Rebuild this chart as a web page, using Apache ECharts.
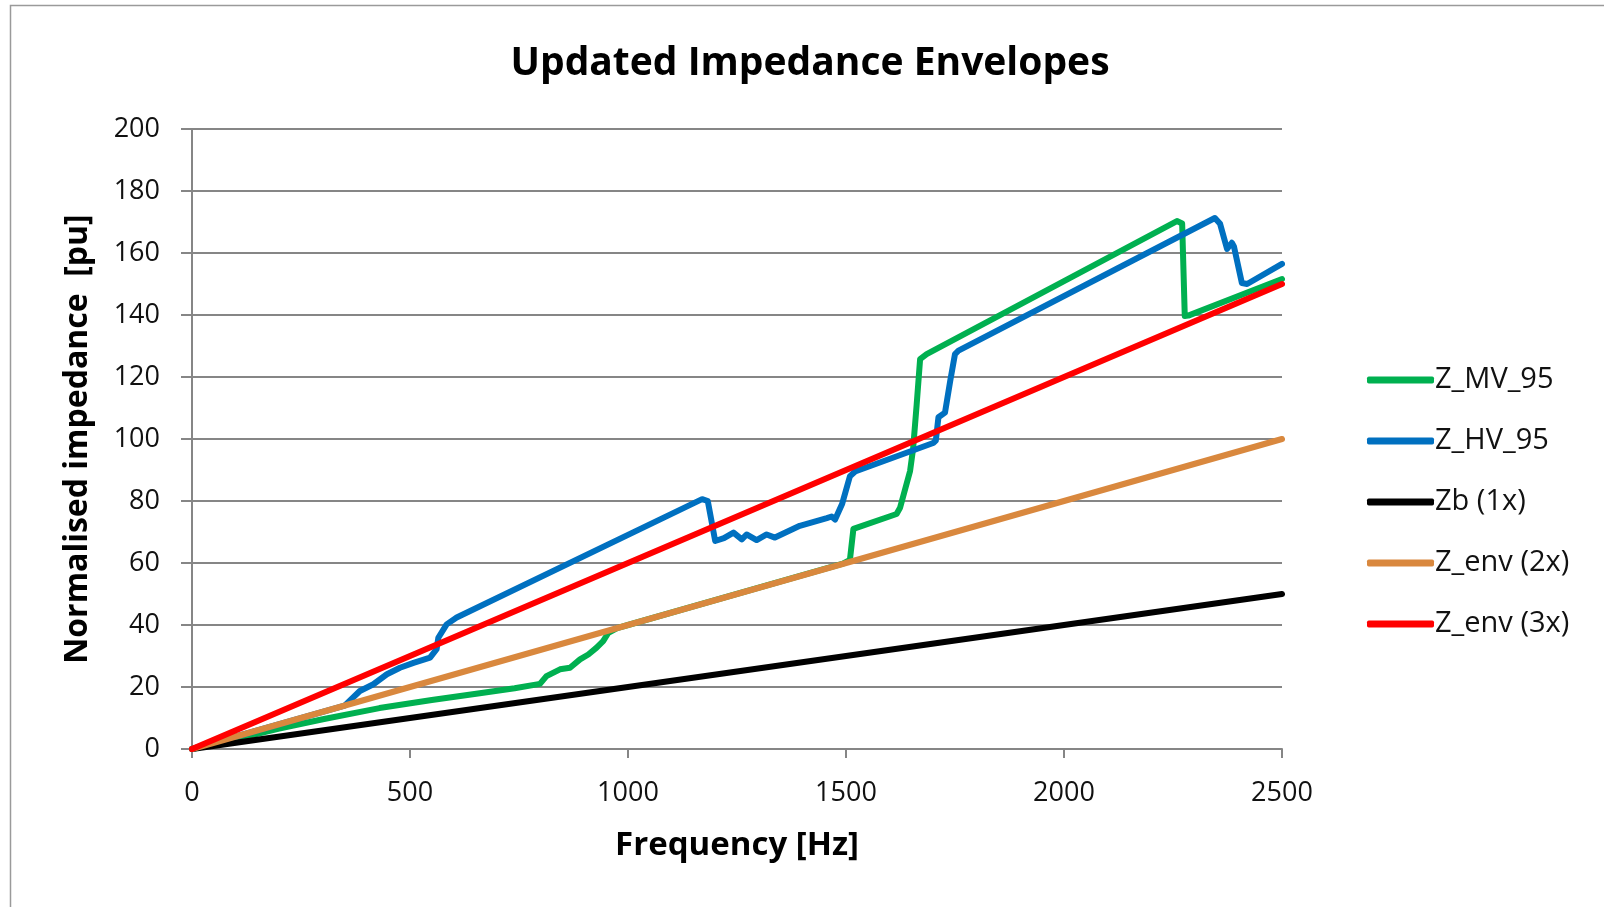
<!DOCTYPE html>
<html>
<head>
<meta charset="utf-8">
<script src="https://cdn.jsdelivr.net/npm/echarts@6/dist/echarts.min.js"></script>
<style>
html,body{margin:0;padding:0;background:#fff;}
#chart{width:1604px;height:907px;}
</style>
</head>
<body>
<div id="chart"></div>
<script>
// ---- data ----
const xTicks = [0, 500, 1000, 1500, 2000, 2500];
const yTicks = [0, 20, 40, 60, 80, 100, 120, 140, 160, 180, 200];

const mvFreq = [0, 100, 200, 300, 430, 550, 660, 740, 798, 813, 844, 867, 890, 909, 928, 943, 955, 975, 1000, 1493, 1509, 1517, 1616, 1624, 1647, 1654, 1662, 1670, 1685, 2259, 2271, 2277, 2285, 2500];
const mvVal  = [0, 3.2, 6.6, 9.6, 13.2, 15.8, 18, 19.6, 21, 23.5, 25.7, 26.2, 28.9, 30.5, 32.7, 34.8, 37.5, 39, 40, 59.8, 61, 71, 75.8, 77.8, 89.7, 97, 111, 125.8, 127.4, 170.3, 169.5, 139.7, 139.8, 151.6];

const hvFreq = [0, 350, 385, 416, 447, 477, 508, 546, 561, 565, 584, 607, 1170, 1183, 1200, 1220, 1242, 1261, 1272, 1295, 1318, 1337, 1394, 1456, 1467, 1475, 1491, 1509, 1521, 1700, 1706, 1712, 1727, 1739, 1750, 1758, 2346, 2358, 2374, 2385, 2390, 2408, 2420, 2500];
const hvVal  = [0, 14, 18.7, 20.9, 24.1, 26.2, 27.8, 29.5, 32.2, 35.9, 40.2, 42.4, 80.6, 80, 67.1, 68, 69.8, 67.6, 69.2, 67.4, 69.2, 68.2, 72, 74.5, 75, 74, 79, 88, 89.5, 98.7, 99.5, 107, 108.5, 118.7, 127.4, 128.5, 171.3, 169.4, 161.3, 163.3, 162, 150.3, 150, 156.5];

const lineFreq = [0, 2500];
const zbVal   = [0, 50];
const env2Val = [0, 100];
const env3Val = [0, 150];

const seriesNames  = ['Z_MV_95', 'Z_HV_95', 'Zb (1x)', 'Z_env (2x)', 'Z_env (3x)'];
const seriesColors = ['#00B050', '#0070C0', '#000000', '#D9883E', '#FF0000'];

function zip(xs, ys) { return xs.map((x, i) => [x, ys[i]]); }
const seriesData = [
  zip(mvFreq, mvVal),
  zip(hvFreq, hvVal),
  zip(lineFreq, zbVal),
  zip(lineFreq, env2Val),
  zip(lineFreq, env3Val)
];

const FONT = '"Open Sans", "Liberation Sans", sans-serif';
const GRID_C = '#868686';
const TXT_C = '#111';

const chart = echarts.init(document.getElementById('chart'));
chart.setOption({
  animation: false,
  backgroundColor: '#ffffff',
  title: {
    text: 'Updated Impedance Envelopes',
    left: 805,
    textAlign: 'center',
    top: 39,
    textStyle: { fontFamily: FONT, fontSize: 39, fontWeight: 'bold', color: '#000' }
  },
  graphic: [{
    type: 'rect',
    shape: { x: 10.5, y: 5.5, width: 1700, height: 1000 },
    style: { fill: 'none', stroke: '#9a9a9a', lineWidth: 1.5 },
    silent: true
  }],
  grid: { left: 192, right: 322, top: 129, bottom: 158, containLabel: false },
  legend: {
    orient: 'vertical',
    left: 1367,
    top: 365,
    padding: 0,
    icon: 'roundRect',
    itemWidth: 67,
    itemHeight: 7,
    itemGap: 31,
    textStyle: { fontFamily: FONT, fontSize: 29, color: TXT_C, lineHeight: 30, padding: [0, 0, 0, -4] },
    data: seriesNames
  },
  xAxis: {
    type: 'value',
    min: xTicks[0],
    max: xTicks[xTicks.length - 1],
    interval: xTicks[1] - xTicks[0],
    name: 'Frequency [Hz]',
    nameLocation: 'middle',
    nameGap: 80,
    nameTextStyle: { fontFamily: FONT, fontSize: 33, fontWeight: 'bold', color: '#000' },
    axisLine: { show: true, lineStyle: { color: GRID_C, width: 2 } },
    axisTick: { show: true, length: 9, lineStyle: { color: GRID_C, width: 2 } },
    axisLabel: { fontFamily: FONT, fontSize: 27, color: TXT_C, margin: 31, formatter: v => String(v) },
    splitLine: { show: false }
  },
  yAxis: {
    type: 'value',
    min: yTicks[0],
    max: yTicks[yTicks.length - 1],
    interval: yTicks[1] - yTicks[0],
    name: 'Normalised impedance  [pu]',
    nameLocation: 'middle',
    nameGap: 98,
    nameTextStyle: { fontFamily: FONT, fontSize: 32, fontWeight: 'bold', color: '#000' },
    axisLine: { show: true, lineStyle: { color: GRID_C, width: 2 } },
    axisTick: { show: true, length: 11, lineStyle: { color: GRID_C, width: 2 } },
    axisLabel: { fontFamily: FONT, fontSize: 27, color: TXT_C, margin: 32, formatter: v => String(v) },
    splitLine: { show: true, lineStyle: { color: GRID_C, width: 2 } }
  },
  series: seriesNames.map((n, i) => ({
    name: n,
    type: 'line',
    data: seriesData[i],
    symbol: 'none',
    showSymbol: false,
    lineStyle: { color: seriesColors[i], width: 6, join: 'round', cap: 'round' },
    itemStyle: { color: seriesColors[i] },
    z: 2 + i
  }))
});
</script>
</body>
</html>
